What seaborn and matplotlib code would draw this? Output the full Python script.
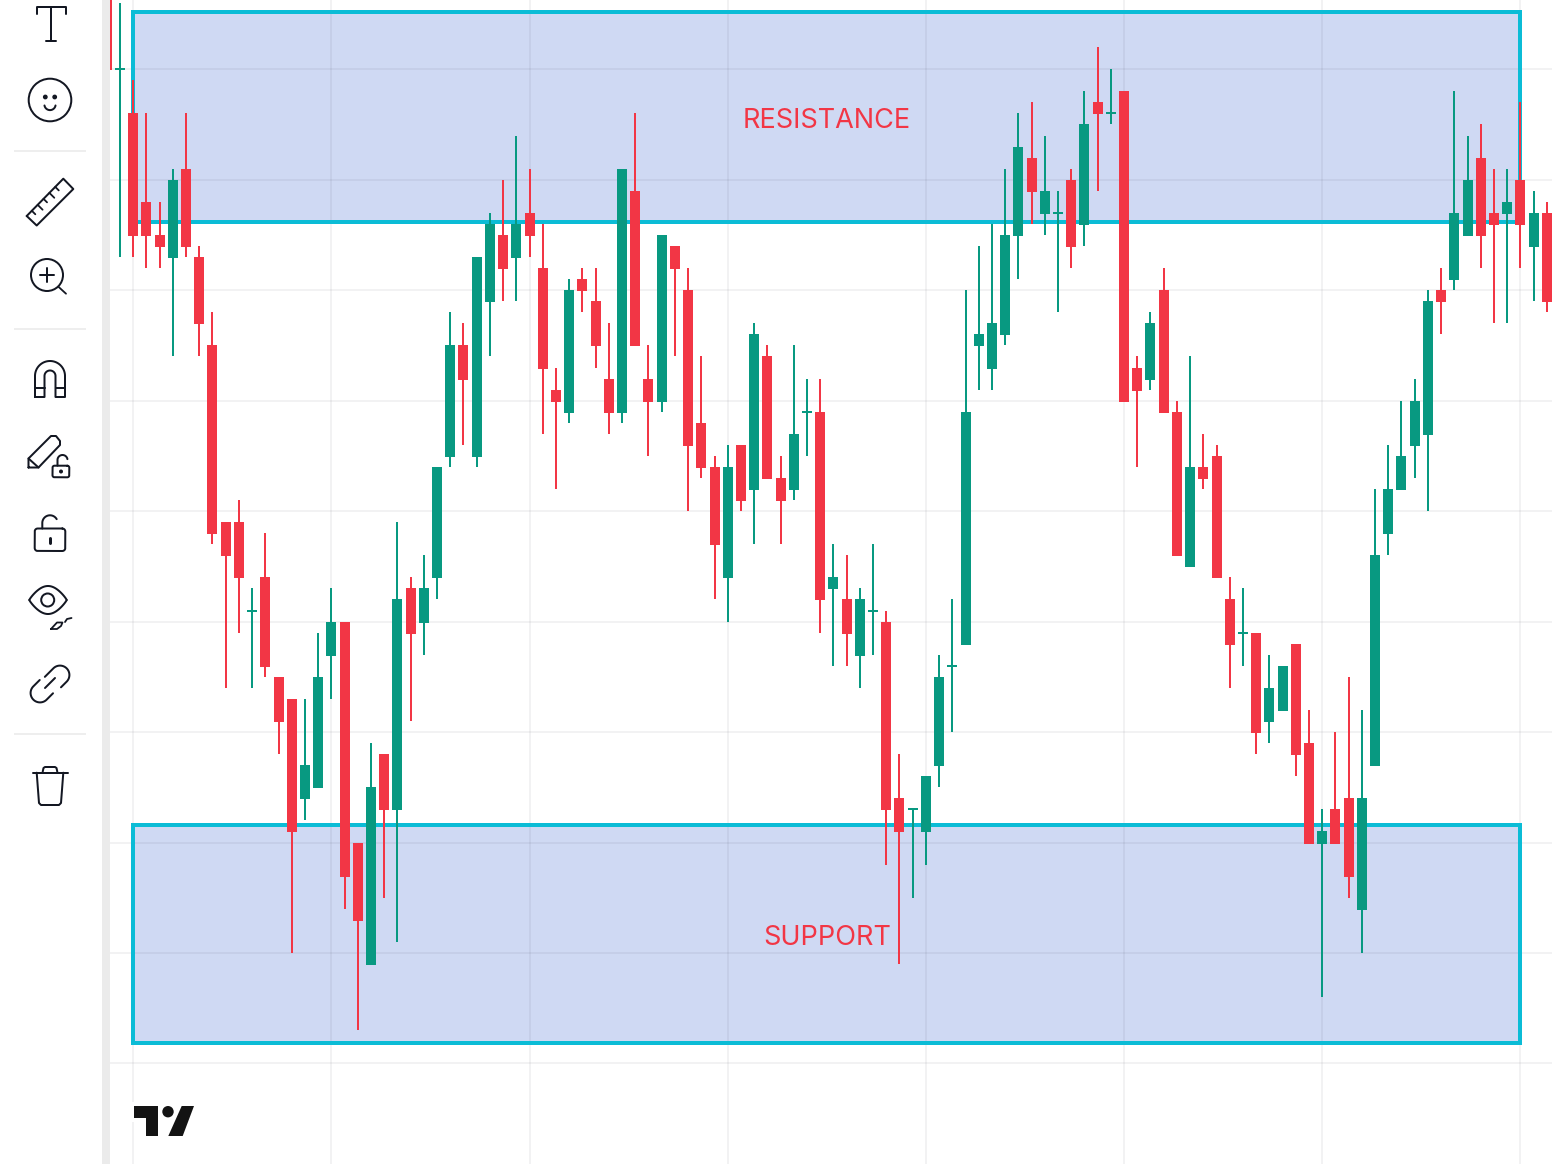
import numpy as np
import pandas as pd
import matplotlib
matplotlib.use("Agg")
import matplotlib.pyplot as plt
from matplotlib.patches import Rectangle, Polygon, Circle
import seaborn as sns

# The chart has no price scale, so levels are read downwards from the top of the picture.
open_ = [-5,70,113,202,235,258,169,257,345,522, 522,612,577,677,699,799,788,656,622,843,
         965,754,810,588,623,578,457,345,457,302, 235,258,213,268,390,413,279,301,379,413,
         191,379,402,246,290,423,467,578,445,490, 356,478,490,413,412,589,599,656,612,622,
         798,810,832,766,667,645,346,369,335,236, 158,214,214,180,225,102,114,91,368,380,
         290,412,567,467,456,599,634,633,722,711, 644,743,844,809,798,910,766,534,490,446,
         435,290,280,236,158,213,214,180,247,213]
close = [70,68,236,236,247,180,247,324,534,556, 578,610,667,722,832,765,677,622,877,921,
         787,810,599,634,588,467,345,380,257,224, 269,224,236,369,402,290,291,346,413,169,
         346,402,235,269,446,468,545,467,501,334, 479,501,434,411,600,577,634,599,610,810,
         832,808,776,677,665,412,334,323,235,147, 192,191,212,247,124,114,112,402,391,323,
         413,556,467,479,578,645,632,733,688,666, 755,844,831,844,877,798,555,489,456,401,
         301,302,213,180,236,225,202,225,213,302]
high = [-15,3,80,113,202,169,113,246,312,522, 500,588,533,677,699,699,633,588,622,843,
        743,754,522,577,555,467,312,323,257,213, 180,136,169,224,368,279,268,268,323,169,
        113,345,235,246,268,356,456,445,445,323, 345,456,345,379,379,544,555,588,544,611,
        754,808,776,655,599,290,246,224,169,113, 102,136,191,169,91,47,69,91,356,312,
        268,401,356,434,445,577,588,633,655,666, 644,710,809,732,677,710,489,445,401,379,
        290,268,91,136,124,169,169,102,191,202]
low = [70,257,257,268,268,356,257,356,544,688, 633,688,677,754,953,820,788,699,909,1030,
       965,898,942,721,655,599,467,445,467,356, 301,301,257,434,489,423,312,368,434,423,
       346,456,412,356,511,478,599,622,511,544, 479,544,500,456,633,666,666,688,655,865,
       964,898,865,787,732,645,390,390,345,279, 224,235,312,268,246,191,124,402,467,390,
       413,556,567,489,578,688,666,754,743,711, 776,844,997,844,898,953,766,555,490,478,
       511,334,290,236,268,323,323,268,301,312]

h_grid_levels = [69, 180, 290, 401, 511, 622, 732, 843, 953, 1063]
v_grid_candles = [2, 17, 32, 47, 62, 77, 92, 107]
zones = [("RESISTANCE", 12, 222), ("SUPPORT", 825, 1043)]
zone_first_candle, zone_last_candle = 2, 107

RED, GREEN = "#F23645", "#089981"
CYAN = "#0BBCD6"
ZONE_FILL = "#436BD3"
INK = "#131722"
px = 0.72  # one pixel in points at dpi 100

sns.set_theme(style="white")
plt.rcParams["font.family"] = ["Inter", "DejaVu Sans"]

fig = plt.figure(figsize=(15.52, 11.64), dpi=100, facecolor="white")
ax = fig.add_axes([110 / 1552, 0, 1 - 110 / 1552, 1])

candle = np.arange(len(open_))
side = np.where(np.array(close) > np.array(open_), "down", "up")
palette = {"down": RED, "up": GREEN}


def long_table(a, b):
    return pd.DataFrame({
        "candle": np.r_[candle, candle],
        "level": np.r_[a, b],
        "side": np.r_[side, side],
    })


sns.lineplot(data=long_table(high, low), x="candle", y="level", hue="side", units="candle",
             estimator=None, sort=False, palette=palette, legend=False, ax=ax,
             linewidth=2 * px, solid_capstyle="butt", zorder=4)
sns.lineplot(data=long_table(open_, close), x="candle", y="level", hue="side", units="candle",
             estimator=None, sort=False, palette=palette, legend=False, ax=ax,
             linewidth=10 * px, solid_capstyle="butt", zorder=5)

x0, step = 106.8, 13.211
ax.set_xlim((110 - x0) / step, (1552 - x0) / step)
ax.set_ylim(1164, 0)
ax.set_xlabel("")
ax.set_ylabel("")
ax.set_xticks(v_grid_candles)
ax.set_yticks(h_grid_levels)
ax.tick_params(length=0, labelbottom=False, labelleft=False)
ax.grid(True, color="#2A2E39", alpha=0.06, linewidth=2 * px)
ax.set_axisbelow(False)  # zorder 2.5: the translucent grid darkens the zone fill
for s in ax.spines.values():
    s.set_visible(False)

for label, top, bottom in zones:
    ax.add_patch(Rectangle((zone_first_candle, top), zone_last_candle - zone_first_candle, bottom - top,
                           facecolor=ZONE_FILL, alpha=0.25, edgecolor="none", zorder=2))
    ax.add_patch(Rectangle((zone_first_candle, top), zone_last_candle - zone_first_candle, bottom - top,
                           facecolor="none", edgecolor=CYAN, linewidth=4 * px, joinstyle="miter", zorder=3))
    ax.annotate(label, ((zone_first_candle + zone_last_candle) / 2, (top + bottom) / 2),
                xytext=(0, -2.9), textcoords="offset points", color=RED,
                fontsize=19.5, ha="center", va="center", zorder=6)

# Toolbar drawn in pixel space
ui = fig.add_axes([0, 0, 1, 1], facecolor="none")
ui.set_xlim(0, 1552)
ui.set_ylim(1164, 0)
ui.axis("off")
ui.add_patch(Rectangle((0, 0), 102, 1164, facecolor="white", edgecolor="none"))
ui.add_patch(Rectangle((102, 0), 8, 1164, facecolor="#EBEBEB", edgecolor="none"))

LW = 2.0 * px


def stroke(pts, lw=LW, color=INK):
    pts = np.asarray(pts, dtype=float)
    ui.plot(pts[:, 0], pts[:, 1], color=color, lw=lw, solid_capstyle="round",
            solid_joinstyle="round")


def arc(cx, cy, r, a0, a1, ry=None):
    t = np.radians(np.linspace(a0, a1, 60))
    return np.c_[cx + r * np.cos(t), cy - (ry or r) * np.sin(t)]


def ring(cx, cy, r, lw=LW):
    ui.add_patch(Circle((cx, cy), r, facecolor="none", edgecolor=INK, linewidth=lw))


def round_rect(x0_, y0_, x1_, y1_, r):
    return np.vstack([arc(x1_ - r, y0_ + r, r, 90, 0), arc(x1_ - r, y1_ - r, r, 0, -90),
                      arc(x0_ + r, y1_ - r, r, -90, -180), arc(x0_ + r, y0_ + r, r, 180, 90),
                      [[x1_ - r, y0_]]])


for y in (151, 329, 734):
    ui.plot([14, 86], [y, y], color="#EEEEEE", lw=2 * px, solid_capstyle="butt")

# text tool
stroke([[36.5, 14], [36.5, 7], [65.5, 7], [65.5, 14]])
stroke([[50.5, 7], [50.5, 41]])
stroke([[46, 41], [55.5, 41]])
# emoji
ring(50, 100, 21.3)
ui.add_patch(Circle((45.3, 97), 1.7, color=INK))
ui.add_patch(Circle((54.7, 97), 1.7, color=INK))
stroke(arc(50, 104.5, 5.6, 190, 350))
# ruler
ruler = np.array([[26.7, 216], [36.7, 225.5], [73.3, 189], [63.3, 178.7], [26.7, 216]])
stroke(ruler)
for f, n in zip((0.14, 0.30, 0.46, 0.62, 0.78), (5, 7, 5, 7, 5)):
    a = ruler[0] + f * (ruler[3] - ruler[0])
    stroke([a, a + n * np.array([0.7, 0.7])], lw=1.8 * px)
# zoom
ring(47, 275, 16)
stroke([[40, 275], [54, 275]])
stroke([[47, 268], [47, 282]])
stroke([[58.7, 287], [66, 293.7]], lw=1.8 * px)
# magnet
stroke(np.vstack([[[35, 397]], arc(50, 376, 15, 180, 0), [[65, 397]], [[55.5, 397]],
                  arc(50, 376, 5.5, 0, 180), [[44.5, 397]], [[35, 397]]]))
stroke([[35, 388], [44.5, 388]])
stroke([[55.5, 388], [65, 388]])
# drawing lock
stroke([[28.5, 467.5], [28.5, 458.5], [51, 436], [56, 436], [60, 441], [60, 445], [38.5, 467.5], [28.5, 467.5]])
stroke([[28.5, 458.5], [38.5, 467.5]])
stroke(round_rect(52.5, 465.7, 69.3, 477.3, 2))
stroke(np.vstack([[[57.5, 465.7]], arc(62.5, 460, 5, 180, 10)]))
ui.add_patch(Circle((61, 471.5), 1.3, color=INK))
# lock
stroke(round_rect(34.7, 528.5, 65.3, 551, 3))
stroke(np.vstack([[[42.3, 528.5]], arc(50, 523, 7.7, 180, 30)]))
stroke([[50, 537.5], [50, 542.5]], lw=3 * px)
# eye
u = np.linspace(-1, 1, 60)
lid = 14 * np.cos(u * np.pi / 2) ** 0.85
stroke(np.c_[48 + 18.7 * u, 600 - lid])
stroke(np.c_[48 + 18.7 * u, 600 + lid])
ring(47.7, 600, 6.5)
stroke([[51, 629], [57, 629], [61, 626], [62.5, 622.5], [57, 622.5], [51, 629]], lw=1.8 * px)
stroke([[65, 622], [67, 619], [71.5, 618]], lw=1.8 * px)
# link
d = np.array([1, -1]) / np.sqrt(2)
n_ = np.array([1, 1]) / np.sqrt(2)
c1, c2, r = np.array([60, 675]), np.array([40, 693]), 9.4
stroke(np.vstack([c1 - r * n_ - 12 * d, arc(c1[0], c1[1], r, 135, -45), c1 + r * n_ - 8 * d]))
stroke(np.vstack([c2 + r * n_ + 9 * d, arc(c2[0], c2[1], r, 315, 135), c2 - r * n_ + 9 * d]))
stroke([[45, 688], [55, 678]])
# trash
stroke([[32.5, 772.7], [67.5, 772.7]])
stroke([[42.7, 771.7], [43.5, 768], [45, 767], [55, 767], [56.5, 768], [57.3, 771.7]])
stroke([[36.7, 772.7], [39, 803], [41, 805], [59, 805], [61, 803], [63.3, 772.7]])

# logo
ui.add_patch(Rectangle((131, 1102), 5, 20, facecolor="white", edgecolor="none"))
LOGO = "#131313"
ui.add_patch(Polygon([[134, 1106], [158.3, 1106], [158.3, 1136], [146, 1136], [146, 1118], [134, 1118]],
                     closed=True, facecolor=LOGO, edgecolor="none"))
ui.add_patch(Circle((168, 1111.7), 5.7, facecolor=LOGO, edgecolor="none"))
ui.add_patch(Polygon([[181.7, 1106], [194, 1106], [182.7, 1136], [168.3, 1136]],
                     closed=True, facecolor=LOGO, edgecolor="none"))

fig.savefig("out.png", dpi=100)
